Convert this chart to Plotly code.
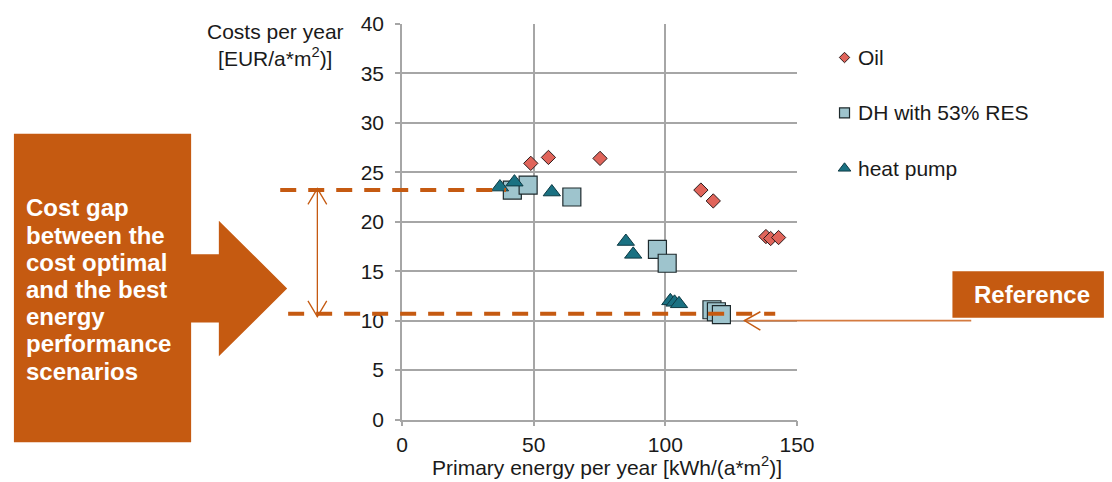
import plotly.graph_objects as go

# Cost (EUR per year and m2) against primary energy (kWh per year and m2)
oil_x = [48.9, 55.6, 75.2, 113.5, 118.2, 138.2, 140.0, 143.0]
oil_y = [25.9, 26.5, 26.4, 23.2, 22.1, 18.5, 18.3, 18.4]

dh_x = [41.9, 47.9, 64.5, 97.0, 100.7, 117.7, 119.4, 121.3]
dh_y = [23.2, 23.7, 22.5, 17.2, 15.8, 11.1, 10.9, 10.6]

hp_x = [37.2, 42.7, 56.9, 85.0, 87.8, 101.9, 103.5, 105.2]
hp_y = [23.5, 24.0, 23.0, 18.0, 16.7, 12.0, 11.85, 11.7]

series_names = ["Oil", "DH with 53% RES", "heat pump"]

x_ticks = [0, 50, 100, 150]
y_ticks = [0, 5, 10, 15, 20, 25, 30, 35, 40]

# cost levels marked by the dashed lines: best energy performance / cost optimal
cost_levels = [23.2, 10.7]
reference_cost = 10.0

box_lines = ["Cost gap", "between the", "cost optimal", "and the best",
             "energy", "performance", "scenarios"]

# ---------------------------------------------------------------- styling
W, H = 1112, 482
ORANGE = "#C55A11"
GRID = "#A6A6A6"
TXT = "#1a1a1a"
FONT = "Arial, Liberation Sans, sans-serif"
FS = 21

# drawing area of the page in pixels (paper 0..1 spans these)
PX0, PX1 = 3, 1102
PY0, PY1 = 9, 473

PLOT_L, PLOT_R, PLOT_T, PLOT_B = 403, 802, 21, 421
X_RANGE = [0, 150]
Y_RANGE = [0, 40]


def X(p):
    """pixel column -> paper x"""
    return (p - PX0) / (PX1 - PX0)


def Y(p):
    """pixel row -> paper y"""
    return 1 - (p - PY0) / (PY1 - PY0)


def YV(v):
    """cost value -> paper y"""
    frac = (v - Y_RANGE[0]) / (Y_RANGE[1] - Y_RANGE[0])
    return Y(PLOT_B) + frac * (Y(PLOT_T) - Y(PLOT_B))


def YVpx(v):
    """cost value -> pixel row"""
    frac = (v - Y_RANGE[0]) / (Y_RANGE[1] - Y_RANGE[0])
    return PLOT_B + frac * (PLOT_T - PLOT_B)


def path(points, close=False):
    s = "M " + " L ".join(f"{X(a):.5f},{Y(b):.5f}" for a, b in points)
    return s + (" Z" if close else "")


fig = go.Figure()

fig.add_trace(go.Scatter(
    x=dh_x, y=dh_y, mode="markers", name=series_names[1],
    marker=dict(symbol="square", size=18, color="#9EC4CD",
                line=dict(color="#1e2a2d", width=1.2))))
fig.add_trace(go.Scatter(
    x=hp_x, y=hp_y, mode="markers", name=series_names[2],
    marker=dict(symbol="triangle-up", size=15, color="#1A7182",
                line=dict(color="#0d3a44", width=1))))
fig.add_trace(go.Scatter(
    x=oil_x, y=oil_y, mode="markers", name=series_names[0],
    marker=dict(symbol="diamond", size=11, color="#E0645A",
                line=dict(color="#2b1b1b", width=1))))

# legend keys on a full-page pixel overlay
key_x = [850, 850, 850]
key_y = [55, 111, 167]
key_style = [
    dict(symbol="diamond", size=8, color="#E0645A", line=dict(color="#2b1b1b", width=1)),
    dict(symbol="square", size=10, color="#9EC4CD", line=dict(color="#1e2a2d", width=1.2)),
    dict(symbol="triangle-up", size=11, color="#1A7182", line=dict(color="#0d3a44", width=1)),
]
for kx, ky, st in zip(key_x, key_y, key_style):
    fig.add_trace(go.Scatter(x=[kx], y=[ky], mode="markers", marker=st,
                             xaxis="x2", yaxis="y2", hoverinfo="skip"))

axis_common = dict(
    showgrid=True, gridcolor=GRID, gridwidth=1.5,
    showline=True, linecolor=GRID, linewidth=1.5,
    ticks="outside", ticklen=5, tickcolor=GRID, tickwidth=1.5,
    zeroline=False, tickfont=dict(family=FONT, size=FS, color=TXT),
)

fig.update_layout(
    width=W, height=H,
    margin=dict(l=0, r=0, t=0, b=0),
    paper_bgcolor="white", plot_bgcolor="rgba(0,0,0,0)",
    showlegend=False,
    xaxis=dict(domain=[X(PLOT_L), X(PLOT_R)], range=X_RANGE, tickvals=x_ticks,
               anchor="y", ticklabelstandoff=0, **axis_common),
    yaxis=dict(domain=[Y(PLOT_B), Y(PLOT_T)], range=Y_RANGE, tickvals=y_ticks,
               anchor="x", ticklabelstandoff=7, **axis_common),
    xaxis2=dict(domain=[0, 1], range=[PX0, PX1], visible=False, anchor="y2",
                fixedrange=True),
    yaxis2=dict(domain=[0, 1], range=[PY1, PY0], visible=False, anchor="x2",
                fixedrange=True),
)

shapes = []
# orange box with the block arrow
shapes.append(dict(
    type="path", xref="paper", yref="paper", layer="above",
    path=path([(11, 132), (190, 132), (190, 254), (218, 254), (218, 220),
               (287, 288.5), (218, 357), (218, 323), (190, 323), (190, 444),
               (11, 444)], close=True),
    fillcolor=ORANGE, line=dict(width=0)))

# dashed cost levels
shapes.append(dict(type="line", xref="paper", yref="paper",
                   x0=X(280), x1=X(508), y0=YV(cost_levels[0]), y1=YV(cost_levels[0]),
                   line=dict(color=ORANGE, width=4, dash="16px,12px")))
shapes.append(dict(type="line", xref="paper", yref="paper",
                   x0=X(288), x1=X(780), y0=YV(cost_levels[1]), y1=YV(cost_levels[1]),
                   line=dict(color=ORANGE, width=4, dash="16px,12px")))

# double-headed arrow spanning the gap
gx = 317.5
top = YVpx(cost_levels[0]) - 1.5
bot = YVpx(cost_levels[1]) + 3
shapes.append(dict(type="path", xref="paper", yref="paper",
                   path=path([(gx, top), (gx, bot)]),
                   line=dict(color=ORANGE, width=1.3)))
shapes.append(dict(type="path", xref="paper", yref="paper",
                   path=path([(gx - 9.5, top + 16), (gx, top), (gx + 9.5, top + 16)]),
                   line=dict(color=ORANGE, width=1.3)))
shapes.append(dict(type="path", xref="paper", yref="paper",
                   path=path([(gx - 9.5, bot - 16), (gx, bot), (gx + 9.5, bot - 16)]),
                   line=dict(color=ORANGE, width=1.3)))

# Reference box and its arrow
shapes.append(dict(type="rect", xref="paper", yref="paper",
                   x0=X(959), x1=X(1112), y0=Y(271), y1=Y(318),
                   fillcolor=ORANGE, line=dict(width=0)))
ry = YVpx(reference_cost)
shapes.append(dict(type="path", xref="paper", yref="paper",
                   path=path([(978, ry), (749, ry)]),
                   line=dict(color="#D47A40", width=1.6)))
shapes.append(dict(type="path", xref="paper", yref="paper",
                   path=path([(765, ry - 9), (749, ry), (765, ry + 9.5)]),
                   line=dict(color=ORANGE, width=1.5)))

fig.update_layout(shapes=shapes)

ann = []
for i, line in enumerate(box_lines):
    ann.append(dict(text=f"<b>{line}</b>", xref="paper", yref="paper",
                    x=X(21), y=Y(207 + 27.5 * i), xanchor="left", yanchor="middle",
                    showarrow=False, font=dict(family=FONT, size=24, color="white")))
ann.append(dict(text="<b>Reference</b>", xref="paper", yref="paper",
                x=X(1039.5), y=Y(295), xanchor="center", yanchor="middle",
                showarrow=False, font=dict(family=FONT, size=24, color="white")))

for name, ky in zip(series_names, key_y):
    ann.append(dict(text=name, xref="paper", yref="paper", x=X(862), y=Y(ky),
                    xanchor="left", yanchor="middle", showarrow=False,
                    font=dict(family=FONT, size=FS, color=TXT)))

ann.append(dict(text="Costs per year<br>[EUR/a*m<sup>2</sup>)]", xref="paper", yref="paper",
                x=X(275), y=Y(42), xanchor="center", yanchor="middle", align="center",
                showarrow=False, font=dict(family=FONT, size=FS, color=TXT)))
ann.append(dict(text="Primary energy per year [kWh/(a*m<sup>2</sup>)]",
                xref="paper", yref="paper", x=X(610), y=Y(468),
                xanchor="center", yanchor="middle",
                showarrow=False, font=dict(family=FONT, size=FS, color=TXT)))

fig.update_layout(annotations=ann)

fig.write_html("out.html")
